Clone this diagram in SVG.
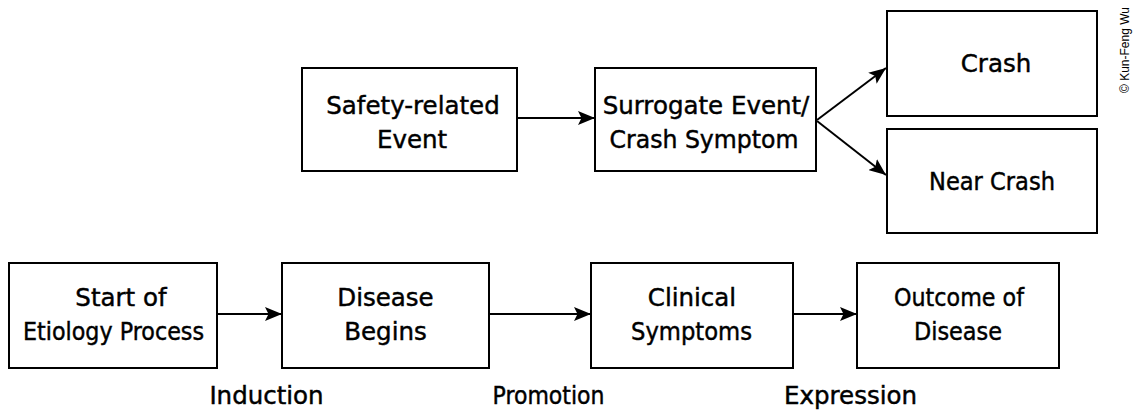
<svg xmlns="http://www.w3.org/2000/svg" width="1135" height="411" viewBox="0 0 1135 411">
<style>
.box{fill:#fff;stroke:#000;stroke-width:2}
.t{font-family:"DejaVu Sans","Liberation Sans",sans-serif;font-size:24.5px;fill:#000;stroke:#000;stroke-width:0.45;text-anchor:middle}
.c{stroke:#000;stroke-width:2;fill:none;marker-end:url(#ah)}
.cp{font-family:"Liberation Sans",Arial,sans-serif;font-size:12px;fill:#000;text-anchor:middle}
</style>
<defs>
<marker id="ah" viewBox="0 0 17 14" refX="17" refY="7" markerWidth="17" markerHeight="14" markerUnits="userSpaceOnUse" orient="auto">
<path d="M0,0 L17,7 L0,14 L3.5,7 Z" fill="#000"/>
</marker>
</defs>
<rect width="1135" height="411" fill="#fff"/>
<g id="connectors">
<line class="c" x1="517" y1="118" x2="595" y2="118"/>
<line class="c" x1="817" y1="120" x2="886" y2="68"/>
<line class="c" x1="817" y1="121" x2="886" y2="175"/>
<line class="c" x1="217" y1="314" x2="282" y2="314"/>
<line class="c" x1="489" y1="314" x2="591" y2="314"/>
<line class="c" x1="793" y1="314" x2="857" y2="314"/>
</g>
<g id="safety">
<rect class="box" x="302" y="68" width="215" height="103"/>
<text class="t" x="413" y="114">Safety-related</text>
<text class="t" x="412" y="148">Event</text>
</g>
<g id="surrogate">
<rect class="box" x="595" y="68" width="221" height="103"/>
<text class="t" x="706" y="114">Surrogate Event/</text>
<text class="t" x="704" y="148" textLength="189" lengthAdjust="spacingAndGlyphs">Crash Symptom</text>
</g>
<g id="crash">
<rect class="box" x="887" y="11" width="210" height="105"/>
<text class="t" x="996" y="72">Crash</text>
</g>
<g id="nearcrash">
<rect class="box" x="887" y="129" width="210" height="104"/>
<text class="t" x="992" y="190" textLength="126" lengthAdjust="spacingAndGlyphs">Near Crash</text>
</g>
<g id="start">
<rect class="box" x="9" y="263" width="208" height="105"/>
<text class="t" x="121" y="306">Start of</text>
<text class="t" x="113.5" y="340" textLength="181" lengthAdjust="spacingAndGlyphs">Etiology Process</text>
</g>
<g id="disease">
<rect class="box" x="282" y="263" width="207" height="105"/>
<text class="t" x="385.5" y="306">Disease</text>
<text class="t" x="385.5" y="340">Begins</text>
</g>
<g id="clinical">
<rect class="box" x="591" y="263" width="202" height="105"/>
<text class="t" x="692" y="306">Clinical</text>
<text class="t" x="691.5" y="340" textLength="121" lengthAdjust="spacingAndGlyphs">Symptoms</text>
</g>
<g id="outcome">
<rect class="box" x="857" y="263" width="202" height="105"/>
<text class="t" x="959" y="306" textLength="130" lengthAdjust="spacingAndGlyphs">Outcome of</text>
<text class="t" x="958" y="340" textLength="88" lengthAdjust="spacingAndGlyphs">Disease</text>
</g>
<g id="labels">
<text class="t" x="266.5" y="404">Induction</text>
<text class="t" x="548.5" y="404" textLength="112" lengthAdjust="spacingAndGlyphs">Promotion</text>
<text class="t" x="850.5" y="404">Expression</text>
</g>
<text class="cp" transform="translate(1129,50) rotate(-90)">© Kun-Feng Wu</text>
</svg>
